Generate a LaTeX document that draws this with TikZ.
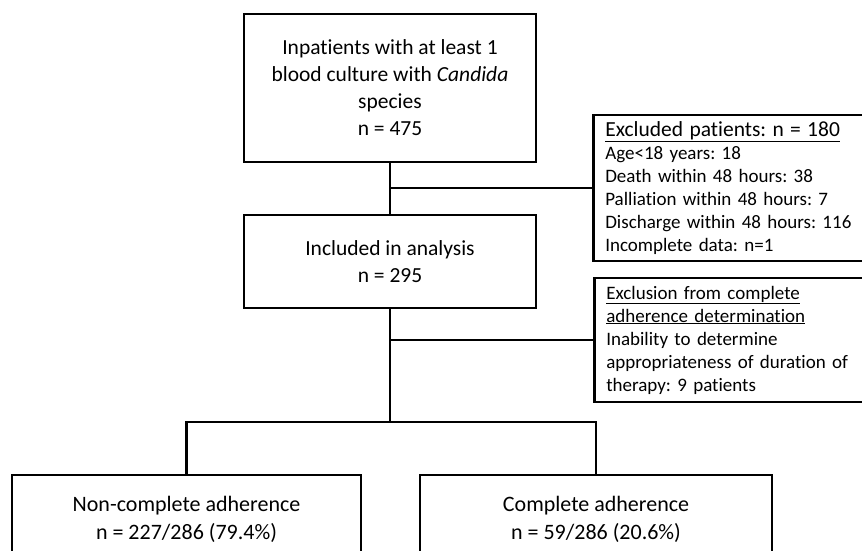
\documentclass[tikz,border=0pt]{standalone}
\usepackage{fontspec}
\setmainfont{Carlito}[Ligatures=NoCommon]
\frenchspacing
\begin{document}
\begin{tikzpicture}[x=1pt,y=-1pt,line width=2.6pt,
  mainbox/.style={draw,align=center,inner sep=0pt,font=\fontsize{21.5}{27}\selectfont},
  sidebox/.style={draw,anchor=west,align=left,text width=262pt,inner xsep=12pt,inner ysep=0pt,font=\fontsize{19}{23}\selectfont}]
\useasboundingbox (0,0) rectangle (862,551);
\clip (0,0) rectangle (862,551);
\node[mainbox,minimum width=292pt,minimum height=148pt] (pop) at (390,88) {Inpatients with at least 1\\blood culture with \textit{Candida}\\species\\n = 475};
\node[mainbox,minimum width=292pt,minimum height=93pt] (incl) at (390,261.5) {Included in analysis\\n = 295};
\node[sidebox,minimum height=146pt] (excl) at (592,188) {{\fontsize{21.5}{25}\selectfont\underline{Excluded patients: n = 180}}\\Age<18 years: 18\\Death within 48 hours: 38\\Palliation within 48 hours: 7\\Discharge within 48 hours: 116\\Incomplete data: n=1};
\node[sidebox,minimum height=124pt] (excl2) at (593,340) {\underline{Exclusion from complete}\\\underline{adherence determination}\\Inability to determine\\appropriateness of duration of\\therapy: 9 patients};
\coordinate (split) at (390,422);
\node[mainbox,minimum width=349pt,minimum height=88pt,font=\fontsize{22}{28}\selectfont] (ncomp) at (186.5,519) {Non-complete adherence\\n = 227/286 (79.4\%)};
\node[mainbox,minimum width=352pt,minimum height=88pt,font=\fontsize{22}{28}\selectfont] (comp) at (596,519) {Complete adherence\\n = 59/286 (20.6\%)};
\draw (pop.south) -- (incl.north);
\draw (excl.west) -- (excl.west -| pop.south);
\draw (incl.south) -- (split);
\draw (excl2.west) -- (excl2.west -| incl.south);
\draw (ncomp.north) |- (split) -| (comp.north);
\end{tikzpicture}
\end{document}
